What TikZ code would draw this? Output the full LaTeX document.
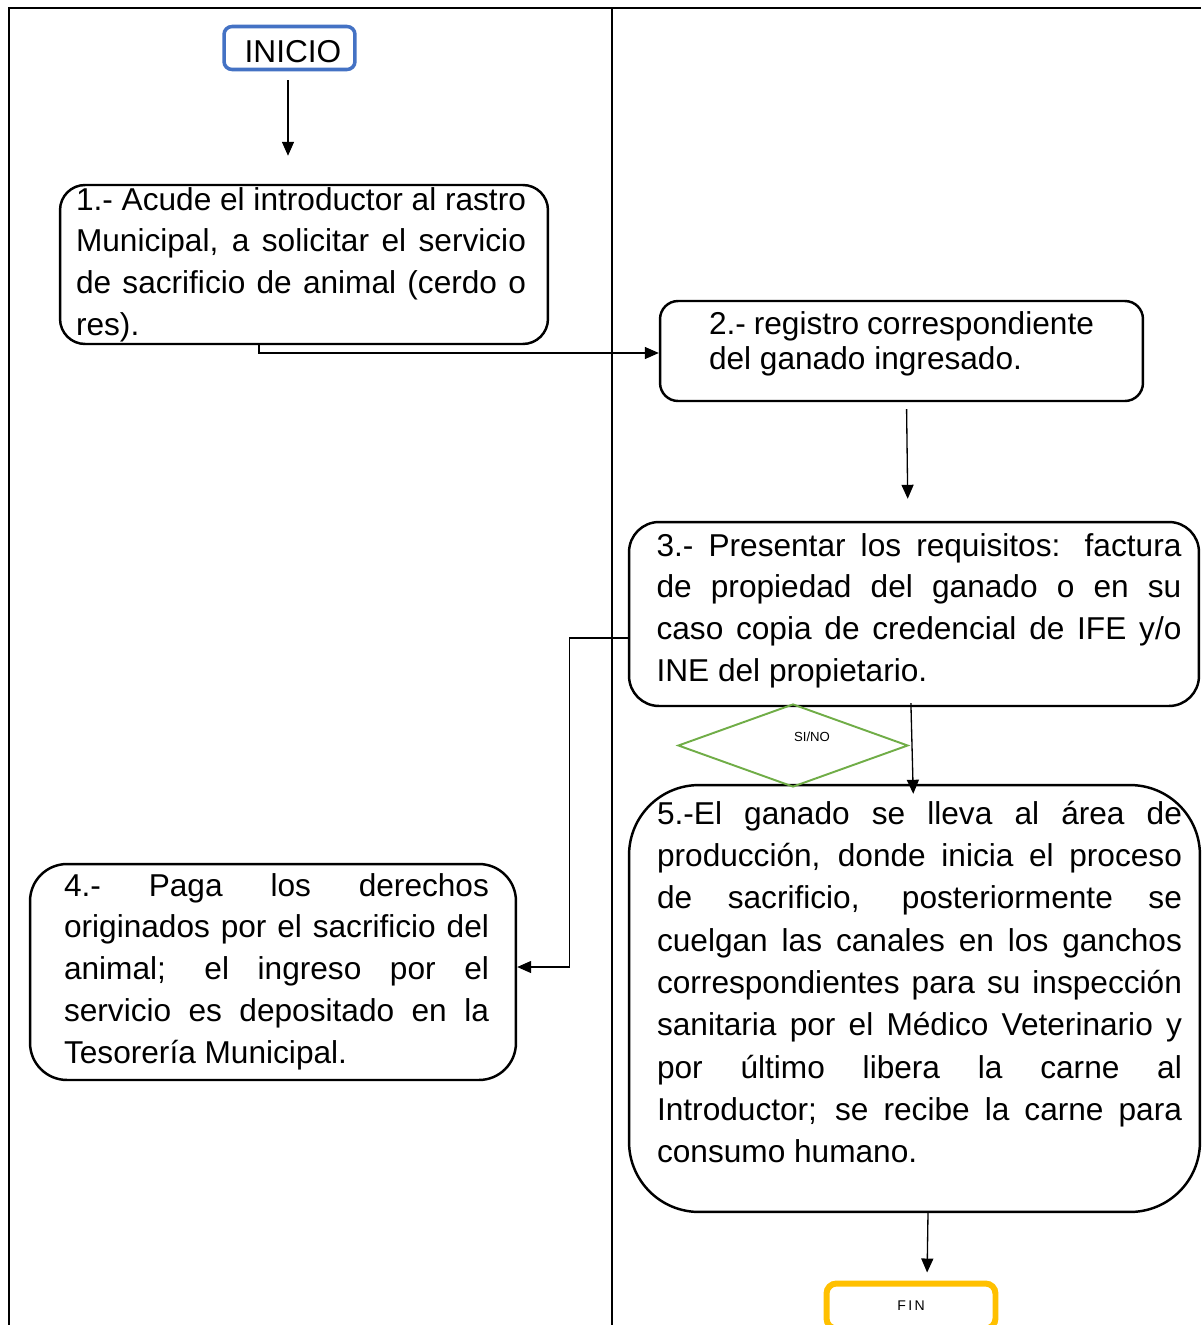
\documentclass[tikz,border=0pt]{standalone}
\usepackage{fontspec}
\setmainfont{Liberation Sans}
\usetikzlibrary{arrows.meta,shapes.geometric}

\definecolor{startblue}{HTML}{4472C4}
\definecolor{endorange}{HTML}{FFC000}
\definecolor{choicegreen}{HTML}{70AD47}

\hyphenpenalty=10000
\exhyphenpenalty=10000

\tikzset{
  stepbox/.style={draw, line width=1.4pt, rounded corners=#1, inner sep=0pt, font=\fontsize{18}{23.8}\selectfont},
  flow/.style={line width=0.75pt, -{Triangle[length=0.28cm,width=0.24cm]}},
  lane/.style={line width=1.2pt},
}

\begin{document}
\begin{tikzpicture}[x=0.02cm,y=-0.02cm]
\useasboundingbox (0,0) rectangle (1201,1325);

%draw the two lanes
\draw[lane] (9,1325) -- (9,8) -- (1201,8);
\draw[lane] (612,8) -- (612,1325);

%start and end
\node[stepbox=0.16cm, draw=startblue, line width=2pt, minimum width=2.62cm, minimum height=0.86cm, text height=0.62cm, text depth=0.046cm] (inicio) at (289.5,48) {\hspace*{0.14cm}INICIO};
\node[stepbox=0.2cm, draw=endorange, line width=3.4pt, minimum width=3.38cm, minimum height=0.9cm, font=\fontsize{8}{10}\selectfont] (fin) at (911,1306) {F\,I\,N};

%the steps
\node[stepbox=0.5cm, minimum width=9.76cm, minimum height=3.18cm] (step1) at (304,264.5)
  {\parbox[c][3.18cm][t]{9.0cm}{\rule{0pt}{0.5cm}1.- Acude el introductor al rastro\linebreak Municipal, a solicitar el servicio\linebreak de sacrificio de animal (cerdo o\linebreak res).}\hspace*{0.12cm}};
\node[stepbox=0.36cm, minimum width=9.66cm, minimum height=2cm, font=\fontsize{18}{20.4}\selectfont] (step2) at (901.5,351)
  {\parbox[c][2cm][t]{7.7cm}{\raggedright\rule{0pt}{0.66cm}2.- registro correspondiente\\ del ganado ingresado.}};
\node[stepbox=0.6cm, minimum width=11.4cm, minimum height=3.68cm] (step3) at (914,614)
  {\hspace*{0.2cm}\parbox[c][3.68cm][t]{10.5cm}{\rule{0pt}{0.68cm}3.- Presentar los requisitos: factura\linebreak de propiedad del ganado o en su\linebreak caso copia de credencial de IFE y/o\linebreak INE del propietario.}};
\node[stepbox=0.74cm, minimum width=9.72cm, minimum height=4.32cm] (step4) at (273,972)
  {\hspace*{0.14cm}\parbox[c][4.32cm][t]{8.5cm}{\rule{0pt}{0.64cm}4.- Paga los derechos\linebreak originados por el sacrificio del\linebreak animal; el ingreso por el\linebreak servicio es depositado en la\linebreak Tesorería Municipal.}};
\node[stepbox=1.4cm, minimum width=11.42cm, minimum height=8.54cm, font=\fontsize{18}{24.1}\selectfont] (step5) at (914.5,998.5)
  {\hspace*{0.2cm}\parbox[c][8.54cm][t]{10.5cm}{\rule{0pt}{0.78cm}5.-El ganado se lleva al área de\linebreak producción, donde inicia el proceso\linebreak de sacrificio, posteriormente se\linebreak cuelgan las canales en los ganchos\linebreak correspondientes para su inspección\linebreak sanitaria por el Médico Veterinario y\linebreak por último libera la carne al\linebreak Introductor; se recibe la carne para\linebreak consumo humano.}};

%decision
\node[diamond, draw=choicegreen, line width=1.1pt, inner sep=0pt, minimum width=4.6cm, minimum height=1.66cm] (choice) at (793,745.5) {};
\node[font=\fontsize{7.5}{9}\selectfont] (choicetext) at (812,737) {SI/NO};

%arrows
\draw[flow, shorten <=0.18cm, shorten >=0.56cm] ([xshift=-0.03cm]inicio.south) -- ([xshift=-0.03cm]inicio.south |- step1.north);
\draw[flow] ([xshift=-0.9cm]step1.south) |- ([yshift=-0.04cm]step2.west);
\draw[flow, shorten <=0.14cm, shorten >=0.44cm] ([xshift=0.1cm]step2.south) -- ([xshift=-0.12cm]step3.north);
\draw[flow] ([yshift=-0.48cm]step3.west) -- ++(-58,0) |- ([yshift=0.1cm]step4.east);
\draw[flow, shorten <=-0.08cm, shorten >=-0.2cm] ([xshift=-0.06cm]step3.south) -- ([xshift=-0.03cm]step5.north);
\draw[flow, shorten >=0.16cm] ([xshift=0.27cm]step5.south) -- ([xshift=0.32cm]fin.north);

\end{tikzpicture}
\end{document}
